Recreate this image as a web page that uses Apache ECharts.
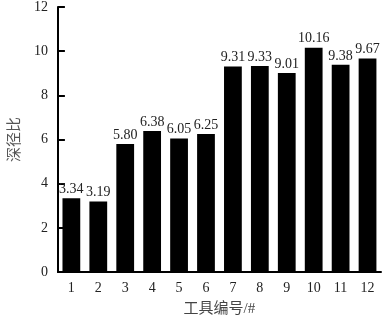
<!DOCTYPE html>
<html><head><meta charset="utf-8">
<script src="https://cdn.jsdelivr.net/npm/echarts@6/dist/echarts.min.js"></script>
<style>html,body{margin:0;padding:0;background:#fff}#c{width:387px;height:322px}</style>
</head><body><div id="c"></div>
<script>
var categories = ['1','2','3','4','5','6','7','8','9','10','11','12'];
var values = [3.34, 3.19, 5.80, 6.38, 6.05, 6.25, 9.31, 9.33, 9.01, 10.16, 9.38, 9.67];
var labels = ['3.34','3.19','5.80','6.38','6.05','6.25','9.31','9.33','9.01','10.16','9.38','9.67'];
var chart = echarts.init(document.getElementById('c'), null, {renderer:'canvas'});
var serif = '"Liberation Serif", "Noto Sans CJK SC", serif';
chart.setOption({
  animation: false,
  grid: {left: 53, right: 6, top: 5, bottom: 48},
  xAxis: {
    type: 'category', data: categories,
    name: '工具编号/#', nameLocation: 'middle', nameGap: 30,
    nameTextStyle: {fontFamily: serif, fontSize: 15, color: '#444'},
    axisLine: {lineStyle: {color: '#000', width: 2}},
    axisTick: {show: false},
    axisLabel: {fontFamily: serif, fontSize: 14, color: '#222', margin: 9}
  },
  yAxis: {
    type: 'value', min: 0, max: 12, interval: 2,
    name: '深径比', nameLocation: 'middle', nameGap: 30,
    nameTextStyle: {fontFamily: serif, fontSize: 15, color: '#555'},
    axisLine: {show: true, lineStyle: {color: '#000', width: 2}},
    axisTick: {show: true, inside: true, length: 7, lineStyle: {color: '#000', width: 2}},
    axisLabel: {fontFamily: serif, fontSize: 14, color: '#222', margin: 10},
    splitLine: {show: false}
  },
  series: [{
    type: 'bar', data: values, barWidth: '66%',
    itemStyle: {color: '#000'},
    label: {show: true, position: 'top', distance: 2, fontFamily: serif, fontSize: 14, color: '#222',
      formatter: function(p){ return labels[p.dataIndex]; }}
  }]
});
</script></body></html>
